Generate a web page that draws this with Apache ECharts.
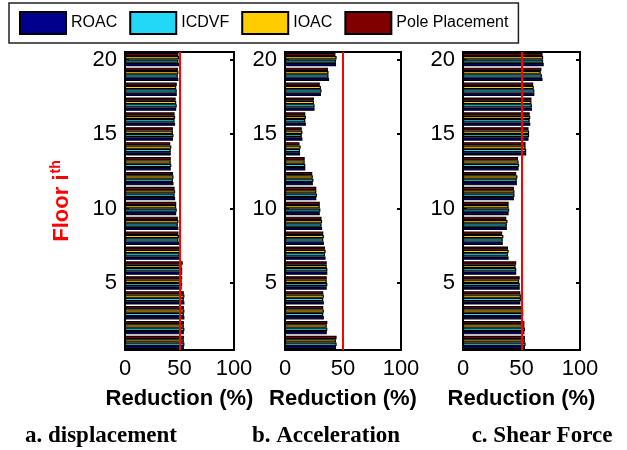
<!DOCTYPE html>
<html>
<head>
<meta charset="utf-8">
<script src="https://cdn.jsdelivr.net/npm/echarts@6/dist/echarts.min.js"></script>
<style>
html,body{margin:0;padding:0;background:#fff;}
#chart{width:627px;height:450px;}
</style>
</head>
<body>
<div id="chart"></div>
<script>
// Floors 1..20
var floors = ['1','2','3','4','5','6','7','8','9','10','11','12','13','14','15','16','17','18','19','20'];
var seriesNames = ['ROAC', 'ICDVF', 'IOAC', 'Pole Placement'];
var xTicks = [0, 50, 100];
var refLine = 50;

// a. displacement reduction (%)
var dispROAC  = [54, 54, 54.5, 54.5, 52, 52.5, 50, 49.5, 49, 47, 46, 44.5, 42, 42, 44, 46, 47, 47.5, 49, 49.5];
var dispICDVF = [54.5, 54.5, 54, 54, 52.5, 52.5, 50, 49, 48.5, 47.5, 45.5, 44, 42.5, 42, 44.5, 45.5, 47.5, 47.5, 48.5, 49];
var dispIOAC  = [54, 54, 54.5, 54.5, 52, 52, 50.5, 49.5, 49, 47, 46, 44.5, 42, 42.5, 44, 46, 47, 47, 49, 49.5];
var dispPole  = [54, 54, 54, 54, 52.5, 53, 50, 49, 48.5, 47, 45.5, 44, 42, 41.5, 44, 45.5, 46.5, 47.5, 48.5, 49];

// b. acceleration reduction (%)
var accROAC  = [44, 36, 33.5, 33.5, 36, 36.5, 35, 33.5, 32, 30, 27, 24, 17.5, 13, 15, 18, 25.5, 31, 38, 44];
var accICDVF = [44.5, 36.5, 33, 33, 36.5, 36.5, 34.5, 33, 31.5, 30.5, 27.5, 24.5, 17.5, 13, 14.5, 17.5, 25.5, 31.5, 37.5, 44];
var accIOAC  = [44, 36, 33.5, 33.5, 36, 36, 35, 33.5, 32, 30, 27, 24, 17, 13.5, 15, 18, 25, 31, 37.5, 44.5];
var accPole  = [44.5, 36.5, 33, 33, 36, 36, 34.5, 33, 31.5, 30, 27, 23.5, 17, 12.5, 14.5, 17.5, 25, 30, 37, 43.5];

// c. shear force reduction (%)
var shearROAC  = [53, 52.5, 51, 49, 48.5, 45.5, 39, 34, 37.5, 39, 43.5, 46, 47.5, 54, 56, 57.5, 59, 61, 68, 69];
var shearICDVF = [53.5, 53, 51.5, 49.5, 48.5, 45.5, 38.5, 34, 37.5, 39.5, 44, 46, 48, 54, 56.5, 57, 59, 61, 67.5, 68.5];
var shearIOAC  = [53, 52.5, 51.5, 49.5, 48, 45, 39, 34.5, 38, 39, 44, 46.5, 47.5, 53.5, 56.5, 57.5, 58.5, 60.5, 66.5, 68.5];
var shearPole  = [53, 52.5, 51, 49, 48.5, 45.5, 38.5, 33.5, 37, 39, 43.5, 45.5, 47, 53.5, 56, 57, 58.5, 60, 67, 68];

var panelTitles = ['a. displacement', 'b. Acceleration', 'c. Shear Force'];
var xAxisName = 'Reduction (%)';

var panels = [
  [dispROAC, dispICDVF, dispIOAC, dispPole],
  [accROAC, accICDVF, accIOAC, accPole],
  [shearROAC, shearICDVF, shearIOAC, shearPole]
];

var colors = ['#00008C', '#22D8F6', '#FFCC00', '#800000'];
var gridPos = [
  {left: 125, width: 109},
  {left: 285, width: 116},
  {left: 463, width: 117}
];
var captionX = [101, 326, 542];

var font = 'Liberation Sans, Arial, sans-serif';
function showTick(idx, val) { return (Number(val) % 5) === 0; }

var grids = [], xAxes = [], yAxes = [], series = [], graphics = [];
for (var p = 0; p < 3; p++) {
  grids.push({left: gridPos[p].left, width: gridPos[p].width, top: 52, height: 298,
              show: true, borderColor: '#000', borderWidth: 2, backgroundColor: '#fff'});
  xAxes.push({
    type: 'value', gridIndex: p, min: xTicks[0], max: xTicks[2], interval: 50,
    axisLine: {show: true, lineStyle: {color: '#000', width: 2}},
    axisTick: {show: true, inside: true, length: 4, lineStyle: {color: '#000', width: 2}},
    splitLine: {show: false},
    axisLabel: {color: '#000', fontSize: 22, fontFamily: font, margin: 8},
    name: xAxisName, nameLocation: 'middle', nameGap: 38,
    nameTextStyle: {color: '#000', fontSize: 22, fontWeight: 'bold', fontFamily: font}
  });
  var yMain = {
    type: 'category', gridIndex: p, data: floors, position: 'left',
    axisLine: {show: true, lineStyle: {color: '#000', width: 2}},
    axisTick: {show: true, inside: true, length: 4, alignWithLabel: true, interval: showTick, lineStyle: {color: '#000', width: 2}},
    axisLabel: {color: '#000', fontSize: 22, fontFamily: font, margin: 8, interval: showTick},
    splitLine: {show: false}
  };
  if (p === 0) {
    yMain.name = '{a|Floor i}{s|th}';
    yMain.nameLocation = 'middle';
    yMain.nameGap = 50;
    yMain.nameTextStyle = {
      rich: {
        a: {color: '#ff0000', fontSize: 22, fontWeight: 'bold', fontFamily: font, lineHeight: 26},
        s: {color: '#ff0000', fontSize: 14, fontWeight: 'bold', fontFamily: font, lineHeight: 26, verticalAlign: 'top', padding: [0, 0, 0, 1]}
      }
    };
  }
  yAxes.push(yMain);
  yAxes.push({
    type: 'category', gridIndex: p, data: floors, position: 'right',
    axisLine: {show: false},
    axisTick: {show: true, inside: true, length: 4, alignWithLabel: true, interval: showTick, lineStyle: {color: '#000', width: 2}},
    axisLabel: {show: false},
    splitLine: {show: false}
  });
  // push in reverse so ROAC sits at the bottom of each floor group
  for (var s = 3; s >= 0; s--) {
    var ser = {
      name: seriesNames[s], type: 'bar', xAxisIndex: p, yAxisIndex: p * 2,
      data: panels[p][s], barCategoryGap: '10%', barGap: '0%',
      itemStyle: {color: colors[s], borderColor: '#000', borderWidth: 1.2},
      emphasis: {disabled: true}, animation: false
    };
    if (s === 0) {
      ser.markLine = {
        silent: true, symbol: ['none', 'none'], label: {show: false},
        lineStyle: {color: '#ff0000', width: 2, type: 'solid'},
        data: [{xAxis: refLine}], animation: false
      };
    }
    series.push(ser);
  }
  graphics.push({
    type: 'text', x: captionX[p], y: 436,
    style: {text: panelTitles[p], fill: '#000', font: 'bold 23px "Liberation Serif", "Times New Roman", serif',
            textAlign: 'center', textVerticalAlign: 'middle'}
  });
}

var chart = echarts.init(document.getElementById('chart'), null, {renderer: 'canvas'});
chart.setOption({
  animation: false,
  legend: {
    data: seriesNames, left: 9, top: 3, orient: 'horizontal',
    padding: [8, 10, 8, 10], itemGap: 12, itemWidth: 46, itemHeight: 22,
    backgroundColor: '#fff', borderColor: '#222', borderWidth: 1.5, borderRadius: 0,
    icon: 'rect',
    textStyle: {color: '#000', fontSize: 16, fontFamily: font},
    selectedMode: false
  },
  grid: grids, xAxis: xAxes, yAxis: yAxes, series: series, graphic: graphics
});
</script>
</body>
</html>
